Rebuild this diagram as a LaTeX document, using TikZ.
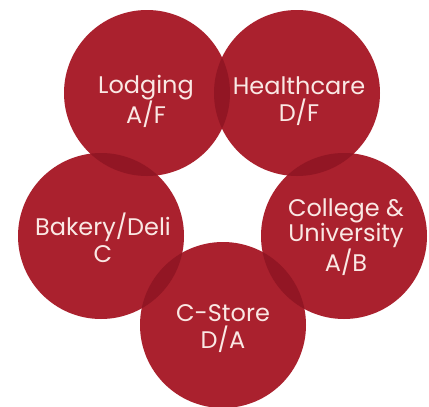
\documentclass[tikz,border=0pt]{standalone}
\usepackage{fontspec}
\setmainfont{Poppins}
\definecolor{ringred}{RGB}{170,33,46}
\definecolor{lapred}{RGB}{146,22,36}
\definecolor{txtpink}{RGB}{250,232,228}
\begin{document}
\begin{tikzpicture}[x=1pt,y=-1pt,
  disc/.style={circle,fill=ringred,minimum size=166pt,inner sep=0pt},
  lbl/.style={text=txtpink,align=center,font=\fontsize{24}{27}\selectfont}]
\useasboundingbox[fill=white] (0,0) rectangle (429,407);
\coordinate (cL) at (147,93);
\coordinate (cH) at (297,93);
\coordinate (cB) at (101,236);
\coordinate (cC) at (344,236);
\coordinate (cS) at (223,325);
\foreach \c in {cL,cH,cB,cC,cS} \fill[ringred] (\c) circle (83);
\foreach \a/\b in {cL/cH,cH/cC,cC/cS,cS/cB,cB/cL}{
  \begin{scope}
    \clip (\a) circle (83);
    \fill[lapred] (\b) circle (83);
  \end{scope}}
\node[lbl] (lodging) at (146,101) {Lodging\\A/F};
\node[lbl] (health) at (299,101) {Healthcare\\D/F};
\node[lbl] (bakery) at (103,238) {Bakery/Deli\\C};
\node[lbl,font=\fontsize{24}{25}\selectfont] (college) at (346,237) {College \&\\University\\A/B};
\node[lbl] (cstore) at (223,329) {C-Store\\D/A};
\end{tikzpicture}
\end{document}
